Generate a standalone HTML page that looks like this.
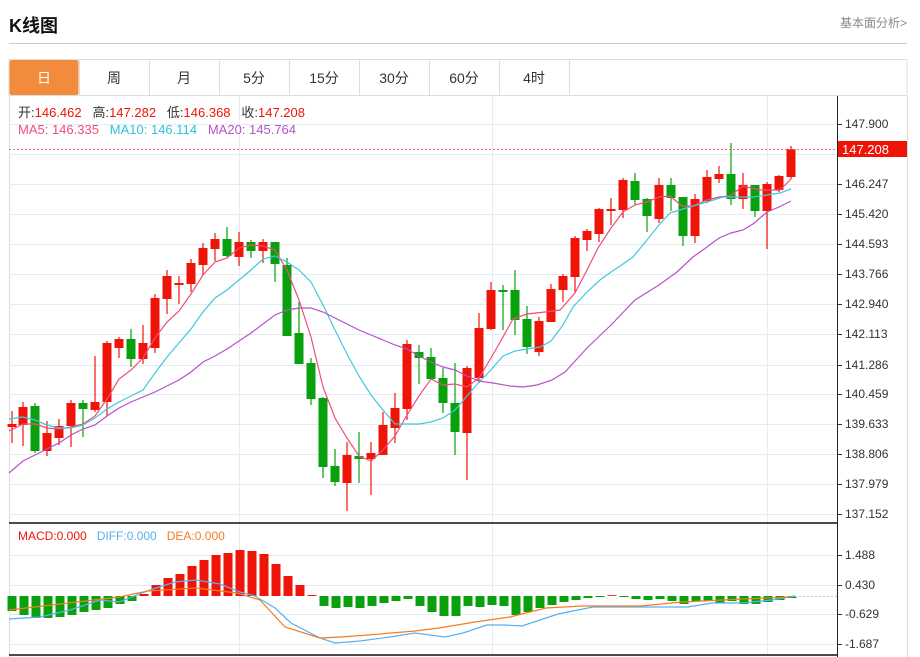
<!DOCTYPE html><html><head><meta charset="utf-8"><style>
body{margin:0;width:920px;height:657px;background:#fff;font-family:"Liberation Sans","Noto Sans CJK SC",sans-serif;overflow:hidden;position:relative}
.t{position:absolute;white-space:nowrap}
</style></head><body>
<div class="t" style="left:9px;top:12px;font-size:18px;font-weight:bold;color:#111">K线图</div>
<div class="t" style="left:840px;top:14px;font-size:12px;color:#888">基本面分析&gt;</div>
<div style="position:absolute;left:9px;top:43px;width:898px;height:1px;background:#ccc"></div>
<svg id="s" width="920" height="657" style="position:absolute;left:0;top:0"></svg>
<script>
var s='';
var tabs=['日','周','月','5分','15分','30分','60分','4时'];
s+='<rect x="9" y="59.5" width="898" height="36" fill="none" stroke="#ddd"/>';
for(var i=0;i<8;i++){var x=9+i*70;
 if(i==0)s+='<rect x="9.5" y="60" width="69" height="35" fill="#f28b3c" rx="2"/>';
 else s+='<line x1="'+(x+.5)+'" y1="60" x2="'+(x+.5)+'" y2="95" stroke="#ddd"/>';
 s+='<text x="'+(x+35)+'" y="83" text-anchor="middle" font-size="14" fill="'+(i==0?'#fff':'#333')+'">'+tabs[i]+'</text>';}
s+='<line x1="569.5" y1="60" x2="569.5" y2="95" stroke="#ddd"/>';
s+='<line x1="9.5" y1="96" x2="9.5" y2="657" stroke="#ddd"/><line x1="907.5" y1="96" x2="907.5" y2="657" stroke="#ddd"/>';
var lab=[['147.900',124],['146.247',184],['145.420',214],['144.593',244],['143.766',274],['142.940',304],['142.113',334],['141.286',365],['140.459',394],['139.633',424],['138.806',454],['137.979',484],['137.152',514]];
s+='<line x1="9" y1="154.5" x2="837" y2="154.5" stroke="#e3ecf2"/>';
lab.forEach(function(l){s+='<line x1="9" y1="'+(l[1]+.5)+'" x2="837" y2="'+(l[1]+.5)+'" stroke="#e3ecf2"/><line x1="837" y1="'+(l[1]+.5)+'" x2="842" y2="'+(l[1]+.5)+'" stroke="#333"/><text x="845" y="'+(l[1]+4)+'" font-size="12" fill="#333">'+l[0]+'</text>';});
[239,492,767].forEach(function(x){s+='<line x1="'+(x+.5)+'" y1="96" x2="'+(x+.5)+'" y2="655" stroke="#e3ecf2"/>';});
var ml=[['1.488',555],['0.430',585],['-0.629',614],['-1.687',644]];
ml.forEach(function(l){s+='<line x1="9" y1="'+(l[1]+.5)+'" x2="837" y2="'+(l[1]+.5)+'" stroke="#e3ecf2"/><line x1="837" y1="'+(l[1]+.5)+'" x2="842" y2="'+(l[1]+.5)+'" stroke="#333"/><text x="845" y="'+(l[1]+4)+'" font-size="12" fill="#333">'+l[0]+'</text>';});
s+='<line x1="9" y1="523" x2="837" y2="523" stroke="#111" stroke-width="1.5"/><line x1="9" y1="655" x2="837" y2="655" stroke="#111" stroke-width="1.5"/>';
s+='<line x1="837.5" y1="96" x2="837.5" y2="657" stroke="#222"/>';
var c=[[12,424,427,411,443,'r'],[23,407,425,402,446,'r'],[35,406,451,403,453,'g'],[47,433,451,421,456,'r'],[59,426,438,419,445,'r'],[71,403,426,400,447,'r'],[83,403,409,400,437,'g'],[95,402,410,356,412,'r'],[107,343,402,341,416,'r'],[119,339,348,337,358,'r'],[131,339,359,329,367,'g'],[143,343,359,325,364,'r'],[155,298,348,294,353,'r'],[167,276,299,270,314,'r'],[179,283,285,276,304,'r'],[191,263,284,259,292,'r'],[203,248,265,243,275,'r'],[215,239,249,233,261,'r'],[227,239,256,227,257,'g'],[239,242,257,232,266,'r'],[251,242,251,240,258,'g'],[263,242,251,239,263,'r'],[275,242,264,242,282,'g'],[287,265,336,258,336,'g'],[299,333,364,302,364,'g'],[311,363,399,358,405,'g'],[323,398,467,397,478,'g'],[335,466,482,449,486,'g'],[347,455,483,442,511,'r'],[359,456,459,432,483,'g'],[371,453,459,442,495,'r'],[383,425,455,412,455,'r'],[395,408,428,393,443,'r'],[407,344,409,340,420,'r'],[419,352,358,345,384,'g'],[431,357,379,348,379,'g'],[443,378,403,368,413,'g'],[455,403,432,363,455,'g'],[467,368,433,366,480,'r'],[479,328,378,313,383,'r'],[491,290,329,282,330,'r'],[503,290,292,285,330,'g'],[515,290,320,270,335,'g'],[527,319,347,306,354,'g'],[539,321,352,317,356,'r'],[551,289,322,284,322,'r'],[563,276,290,274,302,'r'],[575,238,277,236,292,'r'],[587,231,240,229,251,'r'],[599,209,234,208,242,'r'],[611,209,211,198,225,'r'],[623,180,210,178,218,'r'],[635,181,200,173,205,'g'],[647,199,216,198,232,'g'],[659,185,219,178,223,'r'],[671,185,198,178,211,'g'],[683,197,236,197,246,'g'],[695,199,236,194,243,'r'],[707,177,201,170,203,'r'],[719,174,179,166,183,'r'],[731,174,199,143,205,'g'],[743,185,199,173,209,'r'],[755,185,211,185,217,'g'],[767,184,211,182,249,'r'],[779,176,190,175,192,'r'],[791,149,177,146,179,'r']];
c.forEach(function(k){var col=k[5]=='r'?'#f01408':'#08a00c';
 s+='<line x1="'+k[0]+'" y1="'+k[3]+'" x2="'+k[0]+'" y2="'+k[4]+'" stroke="'+col+'" stroke-width="1.2"/>';
 s+='<rect x="'+(k[0]-4.5)+'" y="'+k[1]+'" width="9" height="'+Math.max(1.5,k[2]-k[1])+'" fill="'+col+'"/>';});
function pl(pts,col){return '<polyline fill="none" stroke="'+col+'" stroke-width="1.2" points="'+pts+'"/>';}
s+=pl('9,431 23,424 35,424 47,428 59,429 71,427 83,424 95,416 107,399 119,379 131,370 143,358 155,338 167,322 179,311 191,294 203,275 215,262 227,258 239,248 251,245 263,246 275,250 287,270 299,300 311,337 323,387 335,418 347,438 359,456 371,461 383,450 395,436 407,415 419,396 431,379 443,385 455,384 467,387 479,378 491,358 503,337 513,319 527,314 545,312 560,310 575,293 587,270 598,248 611,228 623,212 635,205 647,202 659,197 670,196 682,206 693,206 707,200 719,197 730,196 743,186 760,190 780,190 791,179','#f04c7a');
s+=pl('9,419 23,417 35,420 47,425 59,428 71,428 83,425 95,418 107,409 119,402 131,396 143,390 155,373 167,357 179,343 191,329 203,312 215,298 227,290 239,280 251,270 263,259 275,256 287,262 299,270 311,282 323,305 335,330 347,354 359,376 371,395 383,410 395,424 407,424 419,424 431,422 443,418 455,410 467,396 479,382 491,370 503,356 515,351 527,349 540,347 551,341 563,325 573,307 587,292 600,280 611,272 623,264 633,257 647,240 659,225 670,213 683,209 693,206 707,202 723,197 740,197 753,197 767,195 780,193 791,189','#3fc9dc');
s+=pl('9,473 23,461 35,455 47,449 59,443 71,435 83,429 95,425 107,416 119,408 131,402 143,397 155,392 167,386 179,380 191,372 203,362 215,356 227,349 239,341 251,333 263,324 275,315 287,310 299,308 311,308 323,312 335,318 347,324 359,330 371,335 383,340 395,345 407,349 419,356 431,362 443,367 455,370 467,376 479,381 493,383 510,386 523,387 537,385 552,380 565,372 587,348 611,325 635,300 659,285 677,272 693,257 707,247 719,238 731,233 743,230 753,224 767,212 779,207 791,201','#b552c8');
s+='<line x1="9" y1="149.5" x2="837" y2="149.5" stroke="#f07070" stroke-dasharray="2,2"/>';
s+='<rect x="838" y="141" width="69" height="16" fill="#f01408"/><text x="842" y="154" font-size="13" fill="#fff">147.208</text>';
s+='<text x="18" y="117" font-size="13" fill="#333" xml:space="preserve">开:<tspan fill="#f01408">146.462</tspan>   高:<tspan fill="#f01408">147.282</tspan>   低:<tspan fill="#f01408">146.368</tspan>   收:<tspan fill="#f01408">147.208</tspan></text>';
s+='<text x="18" y="134" font-size="13" fill="#f04c7a" xml:space="preserve">MA5: 146.335   <tspan fill="#2cc3da">MA10: 146.114</tspan>   <tspan fill="#b552c8">MA20: 145.764</tspan></text>';
var h=[-15,-19,-22,-22,-21,-19,-16,-14,-12,-8,-5,2,11,18,22,30,36,41,43,46,45,42,32,20,11,1,-10,-12,-11,-12,-10,-7,-5,-3,-10,-16,-20,-20,-10,-11,-9,-10,-19,-16,-12,-9,-6,-4,-2,-1,0,-1,-3,-4,-3,-5,-8,-5,-5,-7,-5,-8,-8,-6,-4,-2];
var z=596;
h.forEach(function(v,i){var x=12+i*12;if(v==0)v=0.8;
 s+='<rect x="'+(x-4.5)+'" y="'+(v>0?z-v:z)+'" width="9" height="'+Math.abs(v)+'" fill="'+(v>0?'#f01408':'#08a00c')+'"/>';});
s+='<line x1="791" y1="596.5" x2="837" y2="596.5" stroke="#9fd4ec" stroke-dasharray="2,2"/>';
s+=pl('9,619 40,617 70,610 100,600 119,602 150,590 175,582 196,580 220,584 240,592 255,596 275,608 291,623 320,638 335,643 360,641 390,637 415,633 445,637 463,633 487,625 505,625 522,626 540,620 558,614 593,607 653,607 688,607 712,603 742,603 772,600 795,596','#5ab0f0');
s+=pl('9,610 60,604 119,597 148,591 196,588 237,593 260,600 285,627 320,638 340,637 368,635 415,631 439,628 475,622 510,617 546,608 582,606 641,606 682,602 742,599 790,597','#f47c20');
s+='<text x="18" y="540" font-size="12" fill="#f01408" xml:space="preserve">MACD:0.000   <tspan fill="#5ab0f0">DIFF:0.000</tspan>   <tspan fill="#f47c20">DEA:0.000</tspan></text>';
document.getElementById('s').innerHTML=s;
</script>
</body></html>
